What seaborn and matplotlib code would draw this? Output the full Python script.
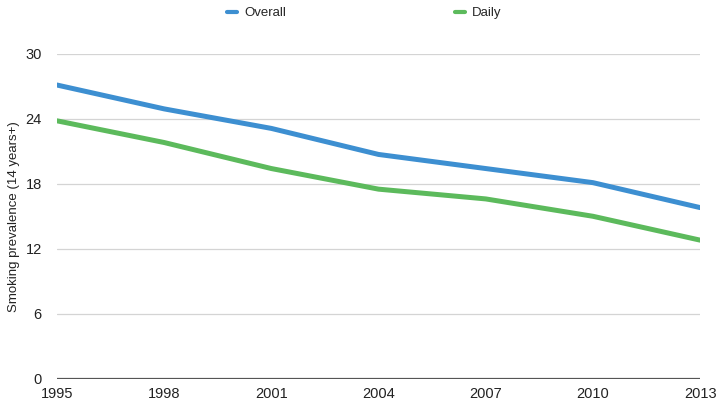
import matplotlib
matplotlib.use("Agg")
import matplotlib.pyplot as plt
import seaborn as sns
import pandas as pd

years = ["1995", "1998", "2001", "2004", "2007", "2010", "2013"]
overall = [27.1, 24.9, 23.1, 20.7, 19.4, 18.1, 15.8]
daily = [23.8, 21.8, 19.4, 17.5, 16.6, 15.0, 12.8]
y_ticks = [0, 6, 12, 18, 24, 30]

df = pd.DataFrame({
    "pos": list(range(len(years))) * 2,
    "value": overall + daily,
    "series": ["Overall"] * len(years) + ["Daily"] * len(years),
})

sns.set_theme(style="white")
plt.rcParams["font.family"] = ["Liberation Sans", "DejaVu Sans"]

fig = plt.figure(figsize=(7.21, 4.03), dpi=100)
ax = fig.add_axes([0.079, 0.0596, 0.892, 0.8075])

sns.lineplot(data=df, x="pos", y="value", hue="series",
             palette={"Overall": "#3d8fd1", "Daily": "#5cba5c"},
             linewidth=3.6, ax=ax, legend=False)

ax.set_xlim(0, len(years) - 1)
ax.set_ylim(0, 30)
ax.set_xticks(range(len(years)))
ax.set_xticklabels(years)
ax.set_yticks(y_ticks)
ax.set_yticklabels([str(t) for t in y_ticks])
ax.tick_params(axis="y", length=0, pad=11, labelsize=10.5, colors="#222222")
ax.tick_params(axis="x", length=0, pad=6, labelsize=10.5, colors="#222222")
ax.set_xlabel("")
ax.set_ylabel("Smoking prevalence (14 years+)", fontsize=9.5, color="#222222")
ax.yaxis.set_label_coords(-0.058, 0.5)

for t in y_ticks[1:]:
    ax.axhline(t, color="#d4d4d4", linewidth=0.9, zorder=0)
ax.axhline(0, color="#555555", linewidth=1.6, zorder=3)

for side in ["top", "right", "left", "bottom"]:
    ax.spines[side].set_visible(False)

handles = [plt.Line2D([], [], color="#3d8fd1", linewidth=3),
           plt.Line2D([], [], color="#5cba5c", linewidth=3)]
fig.legend(handles, ["Overall", "Daily"], ncol=2, loc="center",
           bbox_to_anchor=(0.505, 0.967), frameon=False, fontsize=9.5,
           handlelength=0.8, handletextpad=0.5, columnspacing=12.8)

fig.savefig("out.png", dpi=100)
